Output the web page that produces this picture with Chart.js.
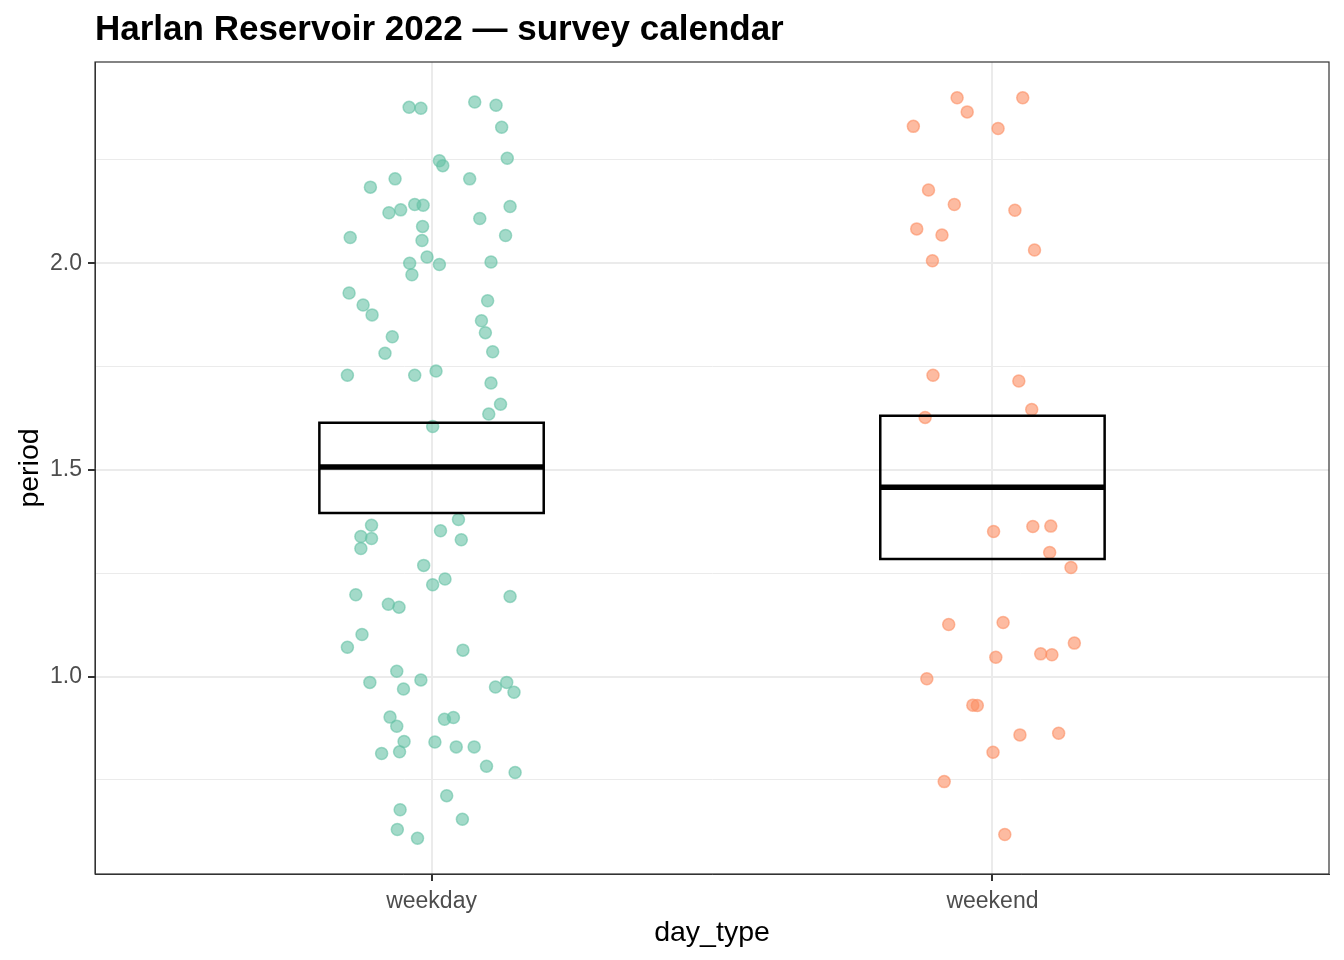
<!DOCTYPE html>
<html>
<head>
<meta charset="utf-8">
<script src="https://cdn.jsdelivr.net/npm/chart.js@4.4.1/dist/chart.umd.min.js"></script>
<style>
  html, body { margin: 0; padding: 0; background: #fff; }
</style>
</head>
<body>
<canvas id="grafico" width="1344" height="960"></canvas>
<script>
// categorias e valores
const categories = ['weekday', 'weekend'];

const weekdayPeriod = [
  2.377, 2.375, 2.390, 2.382, 2.329, 2.248, 2.236, 2.254, 2.204, 2.184,
  2.204, 2.142, 2.140, 2.129, 2.122, 2.137, 2.108, 2.089, 2.067, 2.062,
  2.055, 2.015, 2.000, 1.997, 2.003, 1.972, 1.928, 1.899, 1.875, 1.909,
  1.861, 1.832, 1.822, 1.782, 1.786, 1.729, 1.729, 1.739, 1.710, 1.659,
  1.635, 1.605, 1.366, 1.339, 1.334, 1.310, 1.353, 1.380, 1.331, 1.269,
  1.222, 1.236, 1.198, 1.175, 1.168, 1.194, 1.102, 1.071, 1.064, 1.013,
  0.986, 0.970, 0.992, 0.975, 0.986, 0.962, 0.902, 0.880, 0.897, 0.901,
  0.843, 0.842, 0.814, 0.818, 0.830, 0.830, 0.783, 0.768, 0.712, 0.678,
  0.655, 0.630, 0.609
];
const weekdayJitter = [
  -0.040, -0.019, 0.077, 0.115, 0.125, 0.014, 0.020, 0.135, -0.065, -0.109,
  0.068, -0.030, -0.015, -0.055, -0.076, 0.140, 0.086, -0.016, 0.132, -0.145,
  -0.017, -0.008, -0.039, 0.014, 0.106, -0.035, -0.147, -0.122, -0.106, 0.100,
  0.089, 0.096, -0.070, -0.083, 0.109, -0.150, -0.030, 0.008, 0.106, 0.123,
  0.102, 0.002, -0.107, -0.126, -0.107, -0.126, 0.016, 0.048, 0.053, -0.014,
  0.002, 0.024, -0.135, -0.077, -0.058, 0.140, -0.124, -0.150, 0.056, -0.062,
  -0.110, -0.050, -0.019, 0.114, 0.134, 0.147, -0.074, -0.062, 0.023, 0.039,
  -0.049, 0.006, -0.089, -0.057, 0.044, 0.076, 0.098, 0.149, 0.027, -0.056,
  0.055, -0.061, -0.025
];

const weekendPeriod = [
  2.400, 2.366, 2.331, 2.400, 2.326, 2.177, 2.142, 2.128, 2.083, 2.068,
  2.006, 2.032, 1.729, 1.715, 1.646, 1.627, 1.351, 1.363, 1.364, 1.300,
  1.264, 1.126, 1.131, 1.081, 1.047, 1.055, 1.053, 0.995, 0.931, 0.930,
  0.859, 0.863, 0.817, 0.746, 0.618
];
const weekendJitter = [
  -0.063, -0.045, -0.141, 0.054, 0.010, -0.114, -0.068, 0.040, -0.135, -0.090,
  -0.107, 0.075, -0.106, 0.047, 0.070, -0.120, 0.002, 0.072, 0.104, 0.102,
  0.140, -0.078, 0.019, 0.146, 0.006, 0.086, 0.106, -0.117, -0.035, -0.027,
  0.049, 0.118, 0.001, -0.086, 0.022
];

// caixas (quartis e mediana)
const boxQ1 = [1.396, 1.2845];
const boxMedian = [1.507, 1.458];
const boxQ3 = [1.614, 1.631];

// ticks do eixo y (os vazios são as linhas menores)
const yTicks = [0.75, 1.0, 1.25, 1.5, 1.75, 2.0, 2.25];
const yLabels = ['', '1.0', '', '1.5', '', '2.0', ''];

const boxHalf = 0.2;

Chart.defaults.font.family = '"Liberation Sans", Arial, Helvetica, sans-serif';

// borda do painel (estilo theme_bw)
const panelBorder = {
  id: 'panelBorder',
  afterDraw(chart) {
    const { ctx, chartArea: a } = chart;
    ctx.save();
    ctx.strokeStyle = '#333333';
    ctx.lineWidth = 1.2;
    ctx.strokeRect(a.left, a.top, a.right - a.left, a.bottom - a.top);
    ctx.restore();
  }
};

function pontos(valores, jitter, idx) {
  return valores.map((v, k) => ({ x: idx + 1 + jitter[k], y: v }));
}

const boxDatasets = categories.map((c, i) => {
  const cx = i + 1;
  return {
    type: 'line',
    label: c + ' box',
    data: [
      { x: cx - boxHalf, y: boxQ1[i] },
      { x: cx + boxHalf, y: boxQ1[i] },
      { x: cx + boxHalf, y: boxQ3[i] },
      { x: cx - boxHalf, y: boxQ3[i] },
      { x: cx - boxHalf, y: boxQ1[i] }
    ],
    borderColor: '#000000',
    borderWidth: 2.5,
    borderCapStyle: 'square',
    borderJoinStyle: 'miter',
    pointRadius: 0,
    fill: false,
    tension: 0,
    order: 0
  };
});

const medianDatasets = categories.map((c, i) => ({
  type: 'line',
  label: c + ' median',
  data: [
    { x: i + 1 - boxHalf, y: boxMedian[i] },
    { x: i + 1 + boxHalf, y: boxMedian[i] }
  ],
  borderColor: '#000000',
  borderWidth: 5.5,
  borderCapStyle: 'butt',
  pointRadius: 0,
  fill: false,
  tension: 0,
  order: 0
}));

const corPontos = ['rgba(102, 194, 165, 0.6)', 'rgba(252, 141, 98, 0.6)'];

const pointDatasets = [
  { label: 'weekday', data: pontos(weekdayPeriod, weekdayJitter, 0) },
  { label: 'weekend', data: pontos(weekendPeriod, weekendJitter, 1) }
].map((ds, i) => ({
  ...ds,
  type: 'scatter',
  backgroundColor: corPontos[i],
  borderColor: corPontos[i],
  borderWidth: 1.5,
  pointRadius: 6,
  order: 1
}));

new Chart(document.getElementById('grafico'), {
  type: 'scatter',
  data: {
    datasets: [...boxDatasets, ...medianDatasets, ...pointDatasets]
  },
  options: {
    responsive: false,
    animation: false,
    events: [],
    devicePixelRatio: 1,
    layout: { padding: { left: 0, right: 15, top: 0, bottom: 0 } },
    plugins: {
      legend: { display: false },
      tooltip: { enabled: false },
      title: {
        display: true,
        text: 'Harlan Reservoir 2022 — survey calendar',
        align: 'start',
        fullSize: false,
        color: '#000000',
        font: { size: 35, weight: 'bold' },
        padding: { top: 9, bottom: 11 }
      }
    },
    scales: {
      x: {
        type: 'linear',
        min: 0.4,
        max: 2.6,
        afterBuildTicks: (scale) => {
          scale.ticks = categories.map((c, i) => ({ value: i + 1 }));
        },
        afterFit: (scale) => { scale.height = 86; },
        ticks: {
          callback: (value, index) => categories[index],
          color: '#4D4D4D',
          font: { size: 23 },
          padding: 7,
          autoSkip: false,
          maxRotation: 0
        },
        grid: {
          color: '#EBEBEB',
          lineWidth: 2,
          tickColor: '#333333',
          tickLength: 7,
          tickWidth: 2
        },
        border: { display: true, color: '#333333', width: 1 },
        title: {
          display: true,
          text: 'day_type',
          color: '#000000',
          font: { size: 28.5 },
          padding: { top: 0, bottom: 10 }
        }
      },
      y: {
        type: 'linear',
        min: 0.5225,
        max: 2.4867,
        afterBuildTicks: (scale) => {
          scale.ticks = yTicks.map(v => ({ value: v }));
        },
        afterFit: (scale) => { scale.width = 95; },
        ticks: {
          callback: (value, index) => yLabels[index],
          color: '#4D4D4D',
          font: { size: 23 },
          padding: 6,
          autoSkip: false
        },
        grid: {
          color: '#EBEBEB',
          lineWidth: (ctx) => (yLabels[ctx.index] ? 2 : 1),
          tickColor: (ctx) => (yLabels[ctx.index] ? '#333333' : 'rgba(0,0,0,0)'),
          tickLength: 7,
          tickWidth: 2
        },
        border: { display: true, color: '#333333', width: 1 },
        title: {
          display: true,
          text: 'period',
          color: '#000000',
          font: { size: 28.5 },
          padding: { top: 13, bottom: 0 }
        }
      }
    }
  },
  plugins: [panelBorder]
});
</script>
</body>
</html>
